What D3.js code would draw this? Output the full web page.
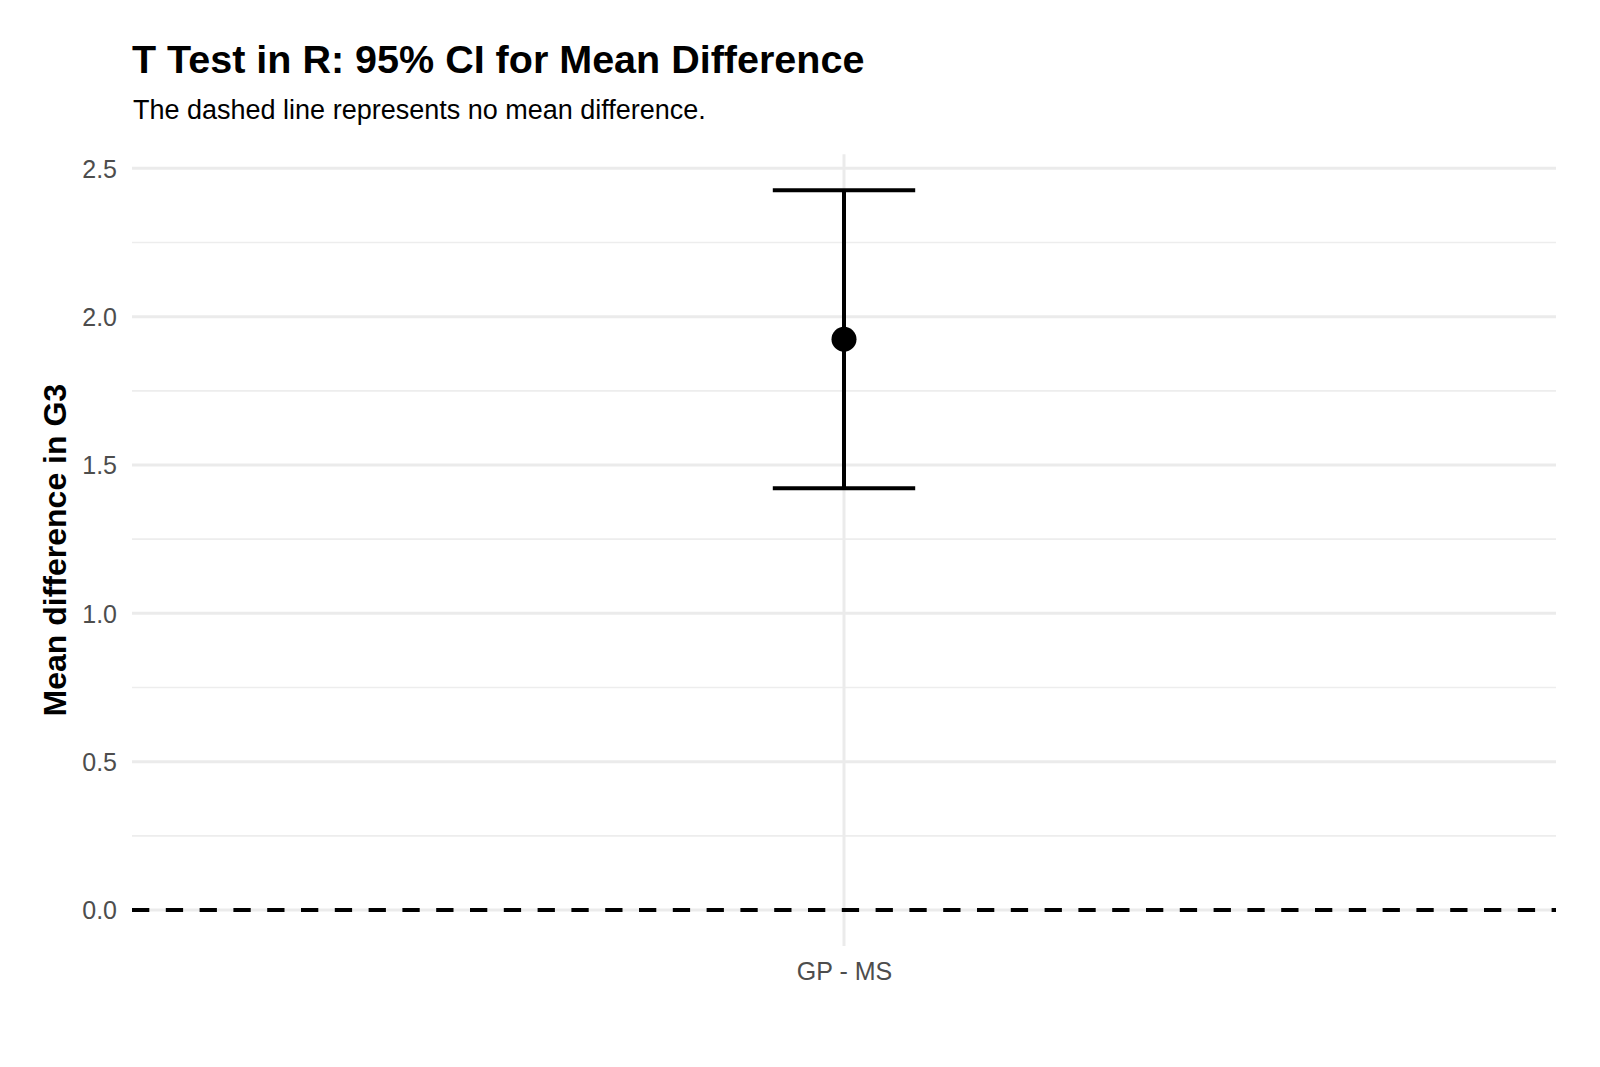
<!DOCTYPE html>
<html>
<head>
<meta charset="utf-8">
<script src="https://cdn.jsdelivr.net/npm/d3@7"></script>
<style>
  body { margin: 0; background: #fff; }
  text { font-family: "Liberation Sans", Arial, sans-serif; }
</style>
</head>
<body>
<div id="chart"></div>
<script>
// T test result: mean difference with 95% CI
const comparisons = ["GP - MS"];
const meanDiff = [1.924];
const ciLower = [1.422];
const ciUpper = [2.426];
const yTicks = [0, 0.5, 1.0, 1.5, 2.0, 2.5];
const yMinorTicks = [0.25, 0.75, 1.25, 1.75, 2.25];

const W = 1600, H = 1067;
const panel = { left: 132, right: 1556, top: 154.3, bottom: 946 };

const svg = d3.select("#chart")
  .append("svg")
  .attr("width", W)
  .attr("height", H);

// y domain like ggplot: data range (incl. the 0 reference line) + 5% each side
const yMin = d3.min([0, ...ciLower]);
const yMax = d3.max([0, ...ciUpper]);
const pad = (yMax - yMin) * 0.05;

const y = d3.scaleLinear()
  .domain([yMin - pad, yMax + pad])
  .range([panel.bottom, panel.top]);

// discrete x with 0.6 expansion on both sides
const x = d3.scalePoint()
  .domain(comparisons)
  .range([panel.left, panel.right])
  .padding(0.6);

const unit = (panel.right - panel.left) / (comparisons.length - 1 + 1.2);
const capHalf = unit * 0.12 / 2;

// minor grid
svg.append("g")
  .selectAll("line")
  .data(yMinorTicks)
  .join("line")
  .attr("x1", panel.left)
  .attr("x2", panel.right)
  .attr("y1", d => y(d))
  .attr("y2", d => y(d))
  .attr("stroke", "#ededed")
  .attr("stroke-width", 1.6);

// major grid
svg.append("g")
  .selectAll("line")
  .data(yTicks)
  .join("line")
  .attr("x1", panel.left)
  .attr("x2", panel.right)
  .attr("y1", d => y(d))
  .attr("y2", d => y(d))
  .attr("stroke", "#ebebeb")
  .attr("stroke-width", 3);

svg.append("g")
  .selectAll("line")
  .data(comparisons)
  .join("line")
  .attr("x1", d => x(d))
  .attr("x2", d => x(d))
  .attr("y1", panel.top)
  .attr("y2", panel.bottom)
  .attr("stroke", "#ebebeb")
  .attr("stroke-width", 3);

// axes (labels only, theme_minimal style)
const yAxis = svg.append("g")
  .attr("transform", `translate(${panel.left}, 0)`)
  .call(d3.axisLeft(y).tickValues(yTicks).tickFormat(d3.format(".1f")).tickSize(0).tickPadding(15));
yAxis.select(".domain").remove();
yAxis.selectAll("text")
  .attr("fill", "#4d4d4d")
  .style("font-size", "25px")
  .attr("dy", "0.35em");

const xAxis = svg.append("g")
  .attr("transform", `translate(0, ${panel.bottom})`)
  .call(d3.axisBottom(x).tickSize(0).tickPadding(16));
xAxis.select(".domain").remove();
xAxis.selectAll("text")
  .attr("fill", "#4d4d4d")
  .style("font-size", "25px");

// zero reference line
svg.append("line")
  .attr("x1", panel.left)
  .attr("x2", panel.right)
  .attr("y1", y(0))
  .attr("y2", y(0))
  .attr("stroke", "#000")
  .attr("stroke-width", 4.2)
  .style("stroke-dasharray", "17.3,16.5");

// error bars
const bars = svg.append("g")
  .selectAll("g")
  .data(comparisons.map((c, i) => ({ c, m: meanDiff[i], lo: ciLower[i], hi: ciUpper[i] })))
  .join("g");

bars.append("line")
  .attr("x1", d => x(d.c))
  .attr("x2", d => x(d.c))
  .attr("y1", d => y(d.lo))
  .attr("y2", d => y(d.hi))
  .attr("stroke", "#000")
  .attr("stroke-width", 4);

bars.selectAll(".cap")
  .data(d => [d.lo, d.hi].map(v => ({ c: d.c, v })))
  .join("line")
  .attr("class", "cap")
  .attr("x1", d => x(d.c) - capHalf)
  .attr("x2", d => x(d.c) + capHalf)
  .attr("y1", d => y(d.v))
  .attr("y2", d => y(d.v))
  .attr("stroke", "#000")
  .attr("stroke-width", 4);

bars.append("circle")
  .attr("cx", d => x(d.c))
  .attr("cy", d => y(d.m))
  .attr("r", 12.5)
  .attr("fill", "#000");

// titles
svg.append("text")
  .attr("x", 132)
  .attr("y", 72.5)
  .style("font-size", "39.5px")
  .style("font-weight", "bold")
  .text("T Test in R: 95% CI for Mean Difference");

svg.append("text")
  .attr("x", 133)
  .attr("y", 119)
  .style("font-size", "27px")
  .text("The dashed line represents no mean difference.");

svg.append("text")
  .attr("transform", `translate(66, ${(panel.top + panel.bottom) / 2}) rotate(-90)`)
  .attr("text-anchor", "middle")
  .style("font-size", "32px")
  .style("font-weight", "bold")
  .text("Mean difference in G3");
</script>
</body>
</html>
